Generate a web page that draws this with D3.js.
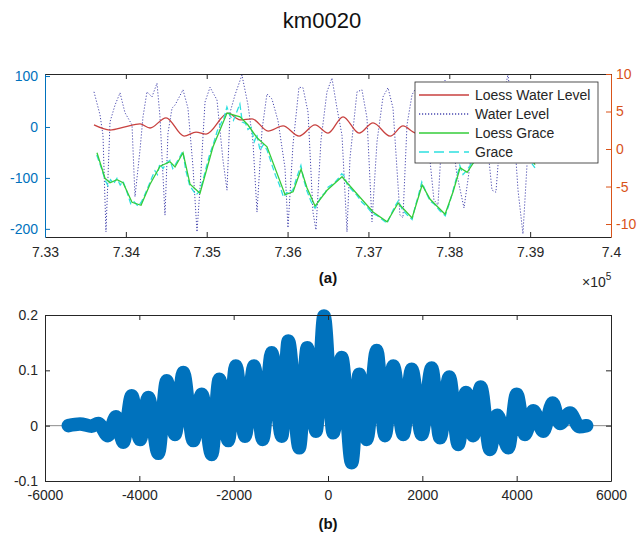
<!DOCTYPE html>
<html>
<head>
<meta charset="utf-8">
<script src="https://cdn.jsdelivr.net/npm/d3@7"></script>
<style>
body { margin: 0; background: #fff; }
text { font-family: "Liberation Sans", Arial, Helvetica, sans-serif; }
</style>
</head>
<body>
<div id="main"></div>
<script>
// ---- data ----
// (a) water level (datenum, left axis)
var wlDays = [733606,733680,733717,733754,733804,733866,733928,733989,734076,734113,734175,734212,734261,734323,734385,734422,734484,734521,734571,734608,734707,734768,734830,734880,734917,734979,735041,735127,735201,735251,735288,735350,735436,735511,735572,735622,735684,735745,735807,735882,735968,736005,736067,736141,736191,736253,736314,736351,736413,736487,736549,736611,736673,736735,736772,736859,736920,736982,737044,737106,737180,737242,737304,737390,737427,737477,737539,737588,737699,737761,737810,737860,737947,738021,738095,738182,738256,738355,738454,738528,738577,738664,738726,738800,738850,738911,738961];
var wlVals = [69,24,-16,-206,10,43,67,28,4,-137,-45,20,69,59,86,20,-173,-12,37,43,73,37,-78,-206,-120,49,78,53,-65,-124,28,63,102,43,-29,-167,-6,65,55,12,-80,-198,-35,78,77,29,-167,-202,-26,69,96,37,-16,-206,-61,69,73,18,-186,-29,59,77,37,-173,-178,4,63,77,33,-65,-143,-153,92,-6,-94,-159,-75,73,-6,-124,-128,53,104,-6,-124,-210,-75];

// loess water level (left axis)
var lwlDays = [733606,733804,733990,734175,734299,734497,734720,734868,734992,735264,735412,735561,735759,735944,736142,736340,736501,736686,736884,737057,737268,737428,737589,737787,737973,738158,738344,738529,738715,738900];
var lwlVals = [4,-6,0,6,-2,18,-18,-10,-14,27,14,16,-8,2,-18,4,-12,20,-12,8,-18,2,-12,6,-10,4,-10,2,-8,0];

// loess grace (right axis)
var lgDays = [733643,733742,733804,733891,733965,734076,734188,734299,734423,734546,734608,734707,734794,734917,735078,735251,735412,735511,735622,735746,735969,736068,736167,736241,736340,736488,736674,736736,737057,737231,737367,737540,737664,737763,737948,738047,738134,738221,738320,738505,738752,738938,739061];
var lgVals = [-0.5,-3.9,-4.5,-4.1,-4.5,-7.1,-7.5,-4.7,-2.3,-1.7,-2.4,-0.5,-4.7,-5.9,0.3,4.8,4.3,3.2,1.5,0.3,-6.1,-5.7,-2.7,-5.2,-7.6,-5.5,-3.7,-4.5,-8.4,-9.7,-7.2,-9.2,-4.8,-6.7,-8.7,-5.7,-2.5,-3.1,-1.5,1.2,2.3,-0.1,-2.1];

// grace (right axis)
var grDays = [733640,733700,733745,733780,733810,733850,733890,733930,733965,734010,734060,734100,734150,734190,734230,734270,734300,734330,734360,734390,734420,734460,734500,734545,734580,734610,734660,734705,734740,734790,734830,734870,734915,734960,735000,735040,735080,735130,735180,735215,735250,735290,735330,735370,735410,735440,735480,735510,735550,735590,735620,735660,735700,735745,735800,735850,735900,735950,735990,736030,736070,736110,736165,736200,736240,736290,736340,736380,736420,736460,736500,736540,736590,736630,736670,736700,736740,736800,736860,736920,736980,737050,737110,737170,737230,737280,737330,737370,737420,737480,737540,737580,737620,737660,737710,737760,737820,737880,737950,738000,738050,738090,738130,738170,738220,738270,738320,738500,738750,738940,739000,739060];
var grVals = [-0.8,-2.6,-4.2,-4.9,-4.1,-4.6,-3.9,-4.8,-4.3,-5.6,-7.3,-7.0,-7.6,-7.1,-6.2,-5.2,-4.4,-3.6,-2.9,-3.4,-2.0,-2.6,-1.9,-1.5,-2.6,-2.1,-1.2,-0.3,-2.8,-4.9,-5.5,-6.1,-5.6,-3.9,-2.2,-0.6,0.6,2.4,3.5,4.2,5.6,4.4,3.8,4.9,6.0,3.6,3.4,2.6,2.9,1.0,1.9,-0.2,0.6,-0.1,-1.9,-3.5,-4.8,-6.4,-5.8,-6.0,-5.3,-3.9,-2.2,-4.1,-5.6,-7.0,-7.9,-7.1,-6.2,-5.9,-5.1,-4.8,-4.4,-3.9,-3.3,-3.6,-4.8,-5.5,-6.2,-7.1,-7.7,-8.6,-8.9,-9.4,-9.9,-8.7,-7.6,-6.9,-8.1,-8.8,-9.4,-7.6,-6.1,-4.4,-5.7,-6.9,-7.4,-8.2,-8.9,-7.3,-5.4,-3.8,-2.2,-3.4,-2.8,-2.0,-1.2,1.5,2.5,-0.4,-1.6,-2.5];

// (b) correlation vs lag
var lags = [-5506,-5258,-5010,-4870,-4664,-4495,-4340,-4162,-3986,-3810,-3598,-3420,-3244,-3068,-2856,-2678,-2466,-2305,-2114,-1955,-1760,-1569,-1385,-1194,-982,-842,-609,-439,-255,-85,112,290,502,663,820,1032,1208,1384,1596,1774,1986,2198,2374,2571,2762,2925,3080,3237,3434,3589,3822,4000,4176,4352,4564,4763,4918,5130,5327,5484];
var corr = [0,0.003,-0.001,0.004,-0.018,0.016,-0.03,0.054,-0.025,0.051,-0.05,0.081,-0.016,0.096,-0.027,0.057,-0.052,0.084,-0.027,0.108,-0.019,0.108,-0.025,0.132,-0.019,0.153,-0.04,0.141,-0.01,0.198,-0.013,0.123,-0.067,0.093,-0.025,0.136,-0.018,0.108,-0.016,0.102,-0.016,0.104,-0.022,0.088,-0.034,0.06,-0.018,0.07,-0.043,0.019,-0.04,0.057,-0.016,0.027,-0.01,0.041,0.004,0.023,-0.002,0];

var dateTicks = [733000,734000,735000,736000,737000,738000,739000,740000];
var leftTicks = [-200,-100,0,100];
var rightTicks = [-10,-5,0,5,10];
var lagTicks = [-6000,-4000,-2000,0,2000,4000,6000];
var corrTicks = [-0.1,0,0.1,0.2];

var legendItems = ["Loess Water Level", "Water Level", "Loess Grace", "Grace"];

// ---- layout ----
var ctx = {
    w: 640,
    h: 541,
    left: 45,
    right: 611,
    aTop: 74,
    aBottom: 237,
    bTop: 315,
    bBottom: 481,
    dark: "#262626",
    blue: "#0072BD",
    orange: "#D95319",
    fs: "14px"
};

// plain hyphen for negatives, like the original
var plain = function(d) { return String(+d.toFixed(2)); };

var svg = d3.select("#main").append("svg")
    .attr("width", ctx.w)
    .attr("height", ctx.h);

svg.append("text")
    .attr("x", 322).attr("y", 28)
    .attr("text-anchor", "middle")
    .style("font-size", "22px")
    .attr("fill", "#111")
    .text("km0020");

// styles an axis group: color, font
var styleAxis = function(g, color, labels) {
    g.select(".domain").attr("stroke", color);
    g.selectAll(".tick line").attr("stroke", color);
    g.selectAll(".tick text")
        .attr("fill", color)
        .style("font-size", ctx.fs)
        .style("font-family", "'Liberation Sans', Arial, sans-serif");
    if (!labels) g.selectAll(".tick text").remove();
};

// ---- (a) ----
var x1 = d3.scaleLinear().domain([733000, 740000]).range([ctx.left, ctx.right]);
var yL = d3.scaleLinear().domain([-216, 104]).range([ctx.aBottom, ctx.aTop]);
var yR = d3.scaleLinear().domain([-11.73, 10]).range([ctx.aBottom, ctx.aTop]);

svg.append("clipPath").attr("id", "clipA").append("rect")
    .attr("x", ctx.left).attr("y", ctx.aTop)
    .attr("width", ctx.right - ctx.left).attr("height", ctx.aBottom - ctx.aTop);

var gA = svg.append("g").attr("clip-path", "url(#clipA)");

var lineL = d3.line().x(function(d) { return x1(d[0]); }).y(function(d) { return yL(d[1]); });
var lineLs = d3.line().curve(d3.curveMonotoneX).x(function(d) { return x1(d[0]); }).y(function(d) { return yL(d[1]); });
var lineR = d3.line().x(function(d) { return x1(d[0]); }).y(function(d) { return yR(d[1]); });

gA.append("path")
    .datum(d3.zip(wlDays, wlVals))
    .attr("d", lineL)
    .attr("fill", "none")
    .attr("stroke", "#4a4ab0")
    .attr("stroke-width", 1)
    .attr("stroke-dasharray", "1.2,1.8");

gA.append("path")
    .datum(d3.zip(lwlDays, lwlVals))
    .attr("d", lineLs)
    .attr("fill", "none")
    .attr("stroke", "#c8413f")
    .attr("stroke-width", 1.3);

gA.append("path")
    .datum(d3.zip(grDays, grVals))
    .attr("d", lineR)
    .attr("fill", "none")
    .attr("stroke", "#2ee0e0")
    .attr("stroke-width", 1.3)
    .attr("stroke-dasharray", "6,3");

gA.append("path")
    .datum(d3.zip(lgDays, lgVals))
    .attr("d", lineR)
    .attr("fill", "none")
    .attr("stroke", "#35cc3a")
    .attr("stroke-width", 1.3);

// axes of (a)
var ax1b = svg.append("g").attr("transform", "translate(0," + ctx.aBottom + ")")
    .call(d3.axisBottom(x1).tickValues(dateTicks).tickSize(-5).tickSizeOuter(0).tickPadding(10)
        .tickFormat(function(d) { return plain(d / 1e5); }));
styleAxis(ax1b, ctx.dark, true);

var ax1t = svg.append("g").attr("transform", "translate(0," + ctx.aTop + ")")
    .call(d3.axisTop(x1).tickValues(dateTicks).tickSize(-5).tickSizeOuter(0));
styleAxis(ax1t, ctx.dark, false);

var axL = svg.append("g").attr("transform", "translate(" + ctx.left + ",0)")
    .call(d3.axisLeft(yL).tickValues(leftTicks).tickSize(-5).tickSizeOuter(0).tickPadding(7)
        .tickFormat(plain));
styleAxis(axL, ctx.blue, true);

var axR = svg.append("g").attr("transform", "translate(" + ctx.right + ",0)")
    .call(d3.axisRight(yR).tickValues(rightTicks).tickSize(-5).tickSizeOuter(0).tickPadding(5)
        .tickFormat(plain));
styleAxis(axR, ctx.orange, true);

svg.append("text")
    .attr("x", 582).attr("y", 287)
    .style("font-size", ctx.fs)
    .attr("fill", "#262626")
    .text("\u00d710")
    .append("tspan")
    .attr("dy", -7)
    .style("font-size", "10px")
    .text("5");

svg.append("text")
    .attr("x", 328).attr("y", 283)
    .attr("text-anchor", "middle")
    .style("font-size", "15px")
    .style("font-weight", "bold")
    .attr("fill", "#111")
    .text("(a)");

// legend
var leg = svg.append("g").attr("transform", "translate(415,82)");
leg.append("rect")
    .attr("width", 183).attr("height", 81)
    .attr("fill", "#fff")
    .attr("stroke", ctx.dark)
    .attr("stroke-width", 0.8);

var legStyles = [
    { c: "#c8413f", dash: null },
    { c: "#4a4ab0", dash: "1.2,1.8" },
    { c: "#35cc3a", dash: null },
    { c: "#2ee0e0", dash: "10,5" }
];

legendItems.forEach(function(name, i) {
    var yy = 13 + i * 19;
    leg.append("line")
        .attr("x1", 4).attr("x2", 54)
        .attr("y1", yy).attr("y2", yy)
        .attr("stroke", legStyles[i].c)
        .attr("stroke-width", 1.3)
        .attr("stroke-dasharray", legStyles[i].dash);
    leg.append("text")
        .attr("x", 60).attr("y", yy + 5)
        .style("font-size", ctx.fs)
        .attr("fill", "#262626")
        .text(name);
});

// ---- (b) ----
var x2 = d3.scaleLinear().domain([-6000, 6000]).range([ctx.left, ctx.right]);
var y2 = d3.scaleLinear().domain([-0.1, 0.2]).range([ctx.bBottom, ctx.bTop]);

// zero line
svg.append("line")
    .attr("x1", x2(-6000)).attr("x2", x2(6000))
    .attr("y1", y2(0)).attr("y2", y2(0))
    .attr("stroke", "#8c8c8c")
    .attr("stroke-width", 1);

svg.append("path")
    .datum(d3.zip(lags, corr))
    .attr("d", d3.line().curve(d3.curveMonotoneX)
        .x(function(d) { return x2(d[0]); })
        .y(function(d) { return y2(d[1]); }))
    .attr("fill", "none")
    .attr("stroke", "#0072BD")
    .attr("stroke-width", 13.5)
    .attr("stroke-linejoin", "round")
    .attr("stroke-linecap", "round");

var ax2b = svg.append("g").attr("transform", "translate(0," + ctx.bBottom + ")")
    .call(d3.axisBottom(x2).tickValues(lagTicks).tickSize(-5).tickSizeOuter(0).tickPadding(9)
        .tickFormat(plain));
styleAxis(ax2b, ctx.dark, true);

var ax2t = svg.append("g").attr("transform", "translate(0," + ctx.bTop + ")")
    .call(d3.axisTop(x2).tickValues(lagTicks).tickSize(-5).tickSizeOuter(0));
styleAxis(ax2t, ctx.dark, false);

var ax2l = svg.append("g").attr("transform", "translate(" + ctx.left + ",0)")
    .call(d3.axisLeft(y2).tickValues(corrTicks).tickSize(-5).tickSizeOuter(0).tickPadding(7)
        .tickFormat(plain));
styleAxis(ax2l, ctx.dark, true);

var ax2r = svg.append("g").attr("transform", "translate(" + ctx.right + ",0)")
    .call(d3.axisRight(y2).tickValues(corrTicks).tickSize(-5).tickSizeOuter(0));
styleAxis(ax2r, ctx.dark, false);

svg.append("text")
    .attr("x", 328).attr("y", 529)
    .attr("text-anchor", "middle")
    .style("font-size", "15px")
    .style("font-weight", "bold")
    .attr("fill", "#111")
    .text("(b)");
</script>
</body>
</html>
